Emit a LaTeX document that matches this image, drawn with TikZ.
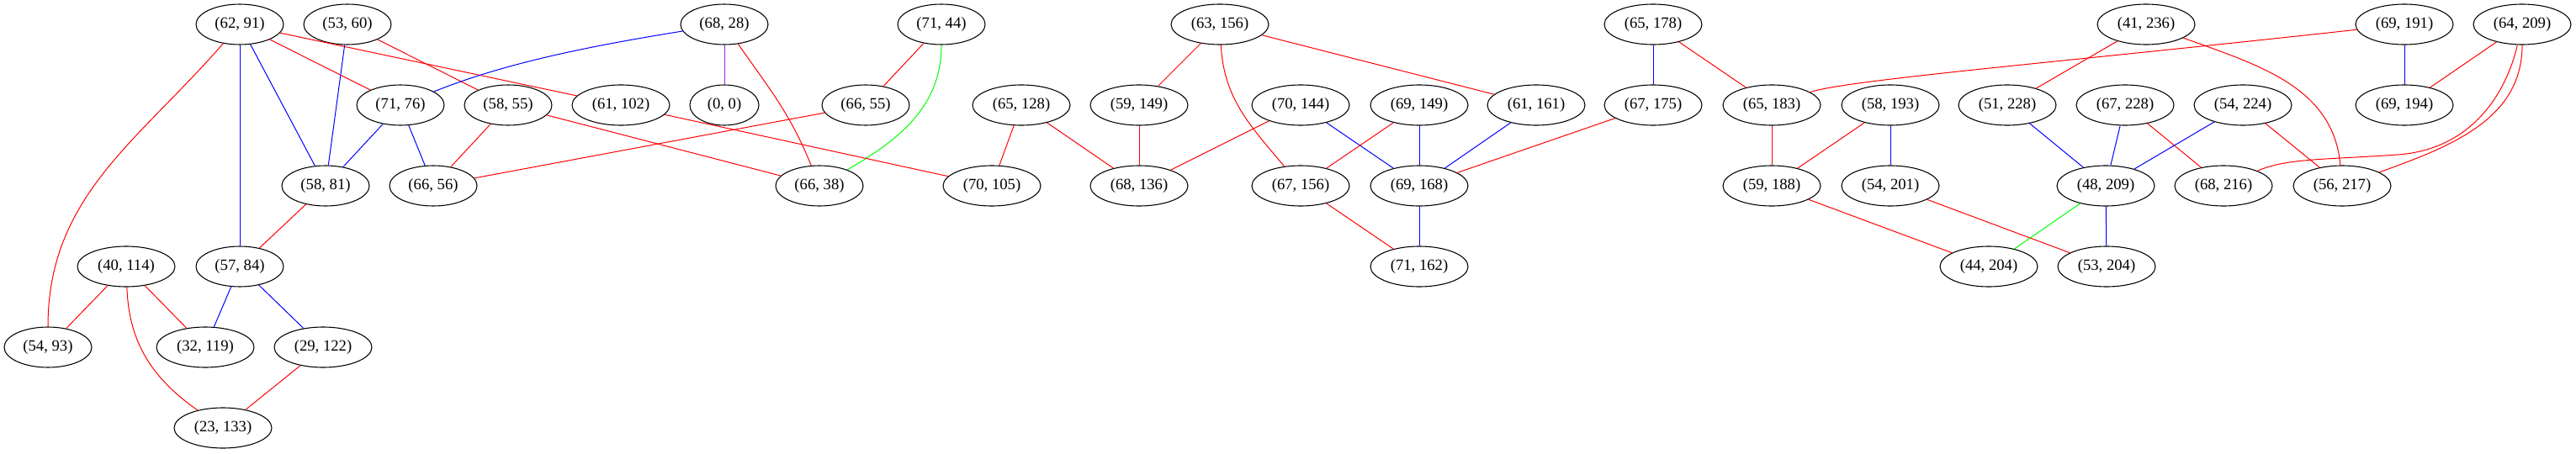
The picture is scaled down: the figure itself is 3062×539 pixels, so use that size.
\documentclass[tikz,border=0pt]{standalone}
\usepackage{fontspec}
\setmainfont{Liberation Serif}
\usetikzlibrary{shapes.geometric}
\definecolor{gvred}{HTML}{FF0000}
\definecolor{gvblue}{HTML}{0000FF}
\definecolor{gvgreen}{HTML}{00FF00}
\definecolor{gvpurple}{HTML}{A020F0}
\tikzset{
  nd/.style={ellipse, draw=black, line width=0.8pt, inner sep=0pt, minimum height=36pt, font=\fontsize{14pt}{16pt}\selectfont},
  ntwo/.style={nd, minimum width=78pt},
  nthree/.style={nd, minimum width=87pt},
  nzero/.style={nd, minimum width=61.5pt},
  er/.style={draw=gvred, line width=0.75pt},
  eb/.style={draw=gvblue, line width=0.75pt},
  eg/.style={draw=gvgreen, line width=0.75pt},
  ep/.style={draw=gvpurple, line width=0.75pt}
}
\begin{document}
\begin{tikzpicture}[x=0.75pt,y=-0.75pt]
\useasboundingbox (0,0) rectangle (3062,539);
% row 1
\node[ntwo] (n62x91) at (285,29) {(62, 91)};
\node[ntwo] (n53x60) at (413,29) {(53, 60)};
\node[ntwo] (n68x28) at (861,29) {(68, 28)};
\node[ntwo] (n71x44) at (1119,29) {(71, 44)};
\node[nthree] (n63x156) at (1450,29) {(63, 156)};
\node[nthree] (n65x178) at (1965,29) {(65, 178)};
\node[nthree] (n41x236) at (2551,29) {(41, 236)};
\node[nthree] (n69x191) at (2858,29) {(69, 191)};
\node[nthree] (n64x209) at (2998,29) {(64, 209)};
% row 2
\node[ntwo] (n71x76) at (476,125) {(71, 76)};
\node[ntwo] (n58x55) at (604,125) {(58, 55)};
\node[nthree] (n61x102) at (738,125) {(61, 102)};
\node[nzero] (n0x0) at (861,125) {(0, 0)};
\node[ntwo] (n66x55) at (1029,125) {(66, 55)};
\node[nthree] (n65x128) at (1214,125) {(65, 128)};
\node[nthree] (n59x149) at (1354,125) {(59, 149)};
\node[nthree] (n70x144) at (1546,125) {(70, 144)};
\node[nthree] (n69x149) at (1687,125) {(69, 149)};
\node[nthree] (n61x161) at (1826,125) {(61, 161)};
\node[nthree] (n67x175) at (1965,125) {(67, 175)};
\node[nthree] (n65x183) at (2106,125) {(65, 183)};
\node[nthree] (n58x193) at (2247,125) {(58, 193)};
\node[nthree] (n51x228) at (2386,125) {(51, 228)};
\node[nthree] (n67x228) at (2526,125) {(67, 228)};
\node[nthree] (n54x224) at (2666,125) {(54, 224)};
\node[nthree] (n69x194) at (2858,125) {(69, 194)};
% row 3
\node[ntwo] (n58x81) at (387,221) {(58, 81)};
\node[ntwo] (n66x56) at (515,221) {(66, 56)};
\node[ntwo] (n66x38) at (974,221) {(66, 38)};
\node[nthree] (n70x105) at (1179,221) {(70, 105)};
\node[nthree] (n68x136) at (1354,221) {(68, 136)};
\node[nthree] (n67x156) at (1546,221) {(67, 156)};
\node[nthree] (n69x168) at (1687,221) {(69, 168)};
\node[nthree] (n59x188) at (2106,221) {(59, 188)};
\node[nthree] (n54x201) at (2247,221) {(54, 201)};
\node[nthree] (n48x209) at (2503,221) {(48, 209)};
\node[nthree] (n68x216) at (2643,221) {(68, 216)};
\node[nthree] (n56x217) at (2784,221) {(56, 217)};
% row 4
\node[nthree] (n40x114) at (150,317) {(40, 114)};
\node[ntwo] (n57x84) at (285,317) {(57, 84)};
\node[nthree] (n71x162) at (1687,317) {(71, 162)};
\node[nthree] (n44x204) at (2364,317) {(44, 204)};
\node[nthree] (n53x204) at (2504,317) {(53, 204)};
% row 5
\node[ntwo] (n54x93) at (57,413) {(54, 93)};
\node[nthree] (n32x119) at (244,413) {(32, 119)};
\node[nthree] (n29x122) at (384,413) {(29, 122)};
% row 6
\node[nthree] (n23x133) at (265,509) {(23, 133)};
% edges
\draw[er] (n62x91) to[out=-131,in=90] (n54x93);
\draw[eb] (n62x91) -- (n57x84);
\draw[eb] (n62x91) -- (n58x81);
\draw[er] (n62x91) -- (n71x76);
\draw[er] (n62x91) -- (n61x102);
\draw[eb] (n53x60) -- (n58x81);
\draw[er] (n53x60) -- (n58x55);
\draw[eb] (n68x28) .. controls (700,55) and (600,75) .. (n71x76);
\draw[ep] (n68x28) -- (n0x0);
\draw[er] (n68x28) to[out=-55,in=112] (n66x38);
\draw[er] (n71x44) -- (n66x55);
\draw[eg] (n71x44) to[out=-90,in=30] (n66x38);
\draw[eb] (n71x76) -- (n58x81);
\draw[eb] (n71x76) -- (n66x56);
\draw[er] (n58x55) -- (n66x56);
\draw[er] (n58x55) -- (n66x38);
\draw[er] (n61x102) -- (n70x105);
\draw[er] (n66x55) -- (n66x56);
\draw[er] (n65x128) -- (n70x105);
\draw[er] (n65x128) -- (n68x136);
\draw[er] (n58x81) -- (n57x84);
\draw[er] (n40x114) -- (n54x93);
\draw[er] (n40x114) -- (n32x119);
\draw[er] (n40x114) to[out=-88,in=145] (n23x133);
\draw[eb] (n57x84) -- (n32x119);
\draw[eb] (n57x84) -- (n29x122);
\draw[er] (n29x122) -- (n23x133);
\draw[er] (n63x156) -- (n59x149);
\draw[er] (n63x156) to[out=-87,in=130] (n67x156);
\draw[er] (n63x156) -- (n61x161);
\draw[er] (n59x149) -- (n68x136);
\draw[er] (n70x144) -- (n68x136);
\draw[eb] (n70x144) -- (n69x168);
\draw[er] (n69x149) -- (n67x156);
\draw[eb] (n69x149) -- (n69x168);
\draw[eb] (n61x161) -- (n69x168);
\draw[er] (n67x175) -- (n69x168);
\draw[eb] (n65x178) -- (n67x175);
\draw[er] (n65x178) -- (n65x183);
\draw[er] (n67x156) -- (n71x162);
\draw[eb] (n69x168) -- (n71x162);
\draw[er] (n41x236) -- (n51x228);
\draw[er] (n41x236) to[out=-20,in=95] (n56x217);
\draw[er] (n69x191) .. controls (2450,74) and (2195,95) .. (n65x183);
\draw[eb] (n69x191) -- (n69x194);
\draw[er] (n64x209) -- (n69x194);
\draw[er] (n64x209) .. controls (2978,115) and (2935,178) .. (2850,184) .. controls (2765,190) and (2718,188) .. (n68x216);
\draw[er] (n64x209) to[out=-90,in=20] (n56x217);
\draw[er] (n65x183) -- (n59x188);
\draw[er] (n58x193) -- (n59x188);
\draw[eb] (n58x193) -- (n54x201);
\draw[eb] (n51x228) -- (n48x209);
\draw[eb] (n67x228) -- (n48x209);
\draw[er] (n67x228) -- (n68x216);
\draw[eb] (n54x224) -- (n48x209);
\draw[er] (n54x224) -- (n56x217);
\draw[er] (n59x188) -- (n44x204);
\draw[er] (n54x201) -- (n53x204);
\draw[eg] (n48x209) -- (n44x204);
\draw[eb] (n48x209) -- (n53x204);
\end{tikzpicture}
\end{document}
